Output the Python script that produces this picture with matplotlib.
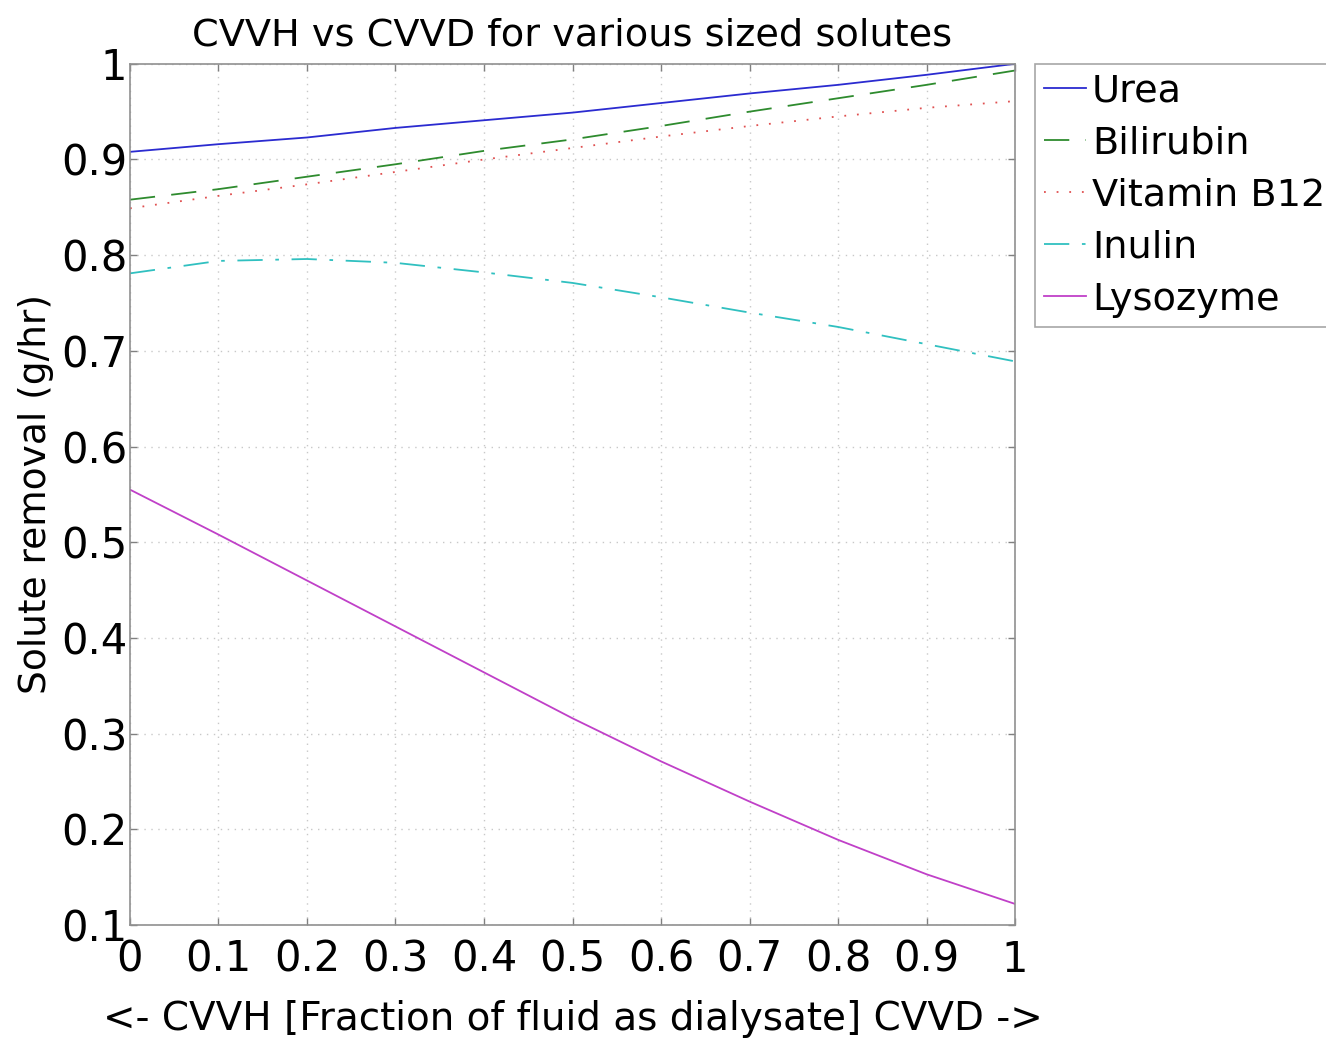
import matplotlib
matplotlib.use("Agg")
import matplotlib.pyplot as plt

# fraction of replacement fluid given as dialysate (0 = pure CVVH, 1 = pure CVVD)
frac = [0.0, 0.1, 0.2, 0.3, 0.4, 0.5, 0.6, 0.7, 0.8, 0.9, 1.0]

urea = [0.908, 0.916, 0.923, 0.933, 0.941, 0.949, 0.959, 0.969, 0.978, 0.9885, 1.0]
bilirubin = [0.858, 0.869, 0.882, 0.895, 0.909, 0.921, 0.935, 0.950, 0.964, 0.978, 0.993]
vitb12 = [0.849, 0.862, 0.874, 0.887, 0.900, 0.912, 0.924, 0.935, 0.945, 0.954, 0.961]
inulin = [0.781, 0.794, 0.796, 0.792, 0.782, 0.771, 0.756, 0.740, 0.725, 0.707, 0.689]
lysozyme = [0.555, 0.508, 0.460, 0.412, 0.364, 0.316, 0.271, 0.229, 0.189, 0.153, 0.122]

names = ["Urea", "Bilirubin", "Vitamin B12", "Inulin", "Lysozyme"]
series = [urea, bilirubin, vitb12, inulin, lysozyme]
colors = ["#2b2bd0", "#2e8b2e", "#e05050", "#30c0c0", "#c040c8"]
styles = ["-", (0, (14, 9)), (0, (1, 6)), (0, (14, 7, 2, 7)), "-"]

plt.rcParams["font.family"] = "DejaVu Sans"

fig = plt.figure(figsize=(13.26, 10.46), dpi=100)
ax = fig.add_axes([0.098, 0.1157, 0.6675, 0.8233])

for name, ys, c, ls in zip(names, series, colors, styles):
    ax.plot(frac, ys, color=c, linestyle=ls, linewidth=1.3, label=name)

ax.set_xlim(0, 1)
ax.set_ylim(0.1, 1)
ax.set_xticks([0, 0.1, 0.2, 0.3, 0.4, 0.5, 0.6, 0.7, 0.8, 0.9, 1])
ax.set_xticklabels(["0", "0.1", "0.2", "0.3", "0.4", "0.5", "0.6", "0.7", "0.8", "0.9", "1"])
ax.set_yticks([0.1, 0.2, 0.3, 0.4, 0.5, 0.6, 0.7, 0.8, 0.9, 1])
ax.set_yticklabels(["0.1", "0.2", "0.3", "0.4", "0.5", "0.6", "0.7", "0.8", "0.9", "1"])
ax.tick_params(direction="in", length=5, width=1, color="#808080",
               top=True, right=True, labelsize=30)
ax.tick_params(axis="x", pad=10)
ax.tick_params(axis="y", pad=2)
for sp in ax.spines.values():
    sp.set_color("#909090")
    sp.set_linewidth(1.2)
ax.grid(True, color="#c8c8c8", linestyle=(0, (1, 4)), linewidth=1)

ax.set_title("CVVH vs CVVD for various sized solutes", fontsize=27.5, pad=13)
ax.set_xlabel("<- CVVH [Fraction of fluid as dialysate] CVVD ->", fontsize=28, labelpad=14)
ax.set_ylabel("Solute removal (g/hr)", fontsize=27, labelpad=5)

leg = ax.legend(loc="upper left", bbox_to_anchor=(1.022, 1.0), fontsize=27.5,
                handlelength=1.1, handletextpad=0.15, borderpad=0.25,
                labelspacing=0.42, borderaxespad=0, fancybox=False)
leg.get_frame().set_edgecolor("#909090")
leg.get_frame().set_linewidth(1.2)

fig.savefig("out.png", dpi=100)
